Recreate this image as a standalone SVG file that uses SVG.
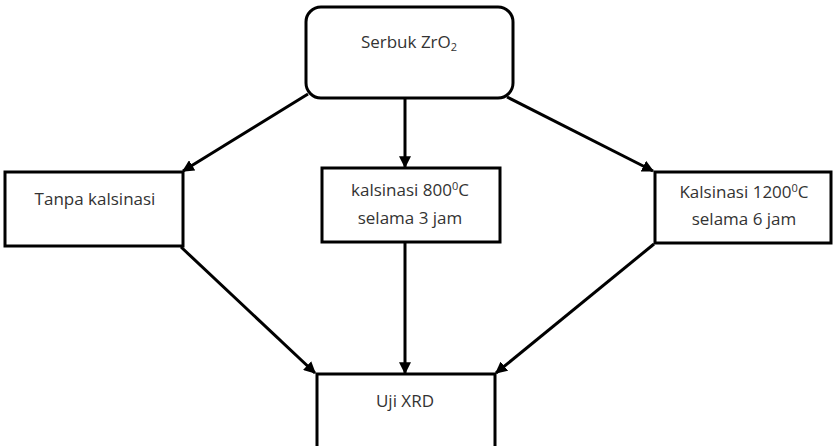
<svg xmlns="http://www.w3.org/2000/svg" width="833" height="446" viewBox="0 0 833 446">
<style>
.box{fill:#fff;stroke:#000;stroke-width:3}
.t{font-family:"Open Sans","Noto Sans","Liberation Sans",sans-serif;font-size:17px;fill:#333;text-anchor:middle}
.c{stroke:#000;stroke-width:3;fill:none;marker-end:url(#ah)}
</style>
<defs>
<marker id="ah" viewBox="0 0 10 10" refX="9" refY="5" markerWidth="4" markerHeight="4" orient="auto" markerUnits="strokeWidth">
<path d="M0,0 L10,5 L0,10 z" fill="#000"/>
</marker>
</defs>
<rect width="833" height="446" fill="#fff"/>
<g id="connectors">
<line class="c" x1="308" y1="94" x2="183" y2="171"/>
<line class="c" x1="405" y1="98" x2="405" y2="167"/>
<line class="c" x1="507" y1="97" x2="653" y2="171"/>
<line class="c" x1="181" y1="247" x2="315" y2="373"/>
<line class="c" x1="405" y1="242" x2="405" y2="373"/>
<line class="c" x1="654" y1="244" x2="496" y2="373"/>
</g>
<g id="serbuk">
<rect class="box" x="306" y="7" width="207" height="91" rx="15"/>
<text class="t" x="409" y="48">Serbuk ZrO<tspan font-size="11" dy="3">2</tspan></text>
</g>
<g id="tanpa">
<rect class="box" x="5" y="172" width="178" height="74"/>
<text class="t" x="95" y="205">Tanpa kalsinasi</text>
</g>
<g id="k800">
<rect class="box" x="322" y="168" width="178" height="74"/>
<text class="t" x="410" y="196">kalsinasi 800<tspan font-size="11" dy="-6">0</tspan><tspan dy="6">C</tspan></text>
<text class="t" x="410" y="224">selama 3 jam</text>
</g>
<g id="k1200">
<rect class="box" x="655" y="172" width="176" height="71"/>
<text class="t" x="744" y="198">Kalsinasi 1200<tspan font-size="11" dy="-6">0</tspan><tspan dy="6">C</tspan></text>
<text class="t" x="744" y="225">selama 6 jam</text>
</g>
<g id="xrd">
<rect class="box" x="317" y="374" width="178" height="80"/>
<text class="t" x="405" y="407">Uji XRD</text>
</g>
</svg>
